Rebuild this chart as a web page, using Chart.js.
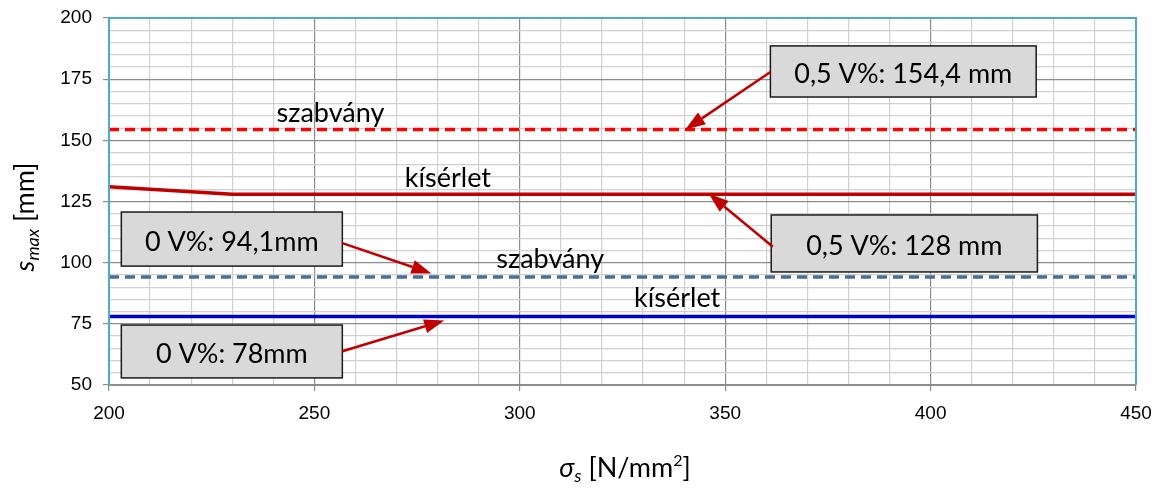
<!DOCTYPE html>
<html>
<head>
<meta charset="utf-8">
<script src="https://cdn.jsdelivr.net/npm/chart.js@4/dist/chart.umd.min.js"></script>
<style>
  html, body { margin: 0; padding: 0; background: #fff; }
  #wrap { width: 1160px; height: 488px; }
</style>
</head>
<body>
<div id="wrap"><canvas id="myChart" width="1160" height="488"></canvas></div>
<script>
// --- data ---
const sigma = [200, 230, 450];              // x values (N/mm2)
const kiserlet05 = [131, 128, 128];         // 0,5 V% test
const szabvany05 = [154.4, 154.4, 154.4];   // 0,5 V% standard
const szabvany0 = [94.1, 94.1, 94.1];       // 0 V% standard
const kiserlet0 = [78, 78, 78];             // 0 V% test

const xTicks = [200, 250, 300, 350, 400, 450];
const yTicks = [50, 75, 100, 125, 150, 175, 200];

const pts = ys => sigma.map((x, i) => ({x: x, y: ys[i]}));

const FONT = "Lato, 'Open Sans', sans-serif";

// callouts, placed in data units
const callouts = [
    {text: "0,5 V%: 154,4 mm", box: [361.0, 188.6, 425.7, 167.7], tail: [361.0, 177.9], tip: [340.3, 154.4]},
    {text: "0,5 V%: 128 mm",   box: [361.2, 119.5, 426.0, 96.2],  tail: [361.6, 106.5], tip: [346.0, 128.2]},
    {text: "0 V%: 94,1mm",     box: [203.0, 120.7, 256.8, 98.6],  tail: [256.8, 108.0], tip: [278.5, 95.6]},
    {text: "0 V%: 78mm",       box: [203.0, 74.5, 256.8, 52.9],   tail: [256.8, 63.8],  tip: [281.6, 76.4]}
];
const lineLabels = [
    {text: "szabvány", at: [253.9, 157.5]},
    {text: "kísérlet", at: [282.5, 131.0]},
    {text: "szabvány", at: [307.4, 97.8]},
    {text: "kísérlet", at: [338.3, 81.9]}
];

function arrow(ctx, x1, y1, x2, y2) {
    const a = Math.atan2(y2 - y1, x2 - x1);
    const L = 20, W = 7;
    const bx = x2 - L * Math.cos(a), by = y2 - L * Math.sin(a);
    ctx.strokeStyle = "#C00000";
    ctx.fillStyle = "#C00000";
    ctx.lineWidth = 2.5;
    ctx.beginPath(); ctx.moveTo(x1, y1); ctx.lineTo(bx, by); ctx.stroke();
    ctx.beginPath();
    ctx.moveTo(x2, y2);
    ctx.lineTo(bx + W * Math.sin(a), by - W * Math.cos(a));
    ctx.lineTo(bx - W * Math.sin(a), by + W * Math.cos(a));
    ctx.closePath(); ctx.fill();
}

const overlay = {
    id: "overlay",
    afterDatasetsDraw(chart) {
        const ctx = chart.ctx, xs = chart.scales.x, ys = chart.scales.y, ca = chart.chartArea;
        ctx.save();
        // plot frame
        ctx.strokeStyle = "#4BACC6";
        ctx.lineWidth = 2;
        ctx.beginPath();
        ctx.moveTo(ca.left, ca.bottom); ctx.lineTo(ca.left, ca.top);
        ctx.lineTo(ca.right, ca.top); ctx.lineTo(ca.right, ca.bottom);
        ctx.stroke();

        // line labels (baseline at the given point)
        ctx.fillStyle = "#000";
        ctx.font = "27px " + FONT;
        ctx.textAlign = "center";
        ctx.textBaseline = "alphabetic";
        lineLabels.forEach(l => ctx.fillText(l.text, xs.getPixelForValue(l.at[0]), ys.getPixelForValue(l.at[1])));

        // callouts
        callouts.forEach(c => {
            const x1 = xs.getPixelForValue(c.box[0]), y1 = ys.getPixelForValue(c.box[1]);
            const x2 = xs.getPixelForValue(c.box[2]), y2 = ys.getPixelForValue(c.box[3]);
            ctx.fillStyle = "#D9D9D9";
            ctx.fillRect(x1, y1, x2 - x1, y2 - y1);
            ctx.strokeStyle = "#1a1a1a";
            ctx.lineWidth = 1.5;
            ctx.strokeRect(x1, y1, x2 - x1, y2 - y1);
            ctx.fillStyle = "#000";
            ctx.font = "27px " + FONT;
            ctx.fillText(c.text, (x1 + x2) / 2, (y1 + y2) / 2 + 12);
            arrow(ctx, xs.getPixelForValue(c.tail[0]), ys.getPixelForValue(c.tail[1]),
                  xs.getPixelForValue(c.tip[0]), ys.getPixelForValue(c.tip[1]));
        });
        ctx.restore();
    },
    afterDraw(chart) {
        const ctx = chart.ctx;
        ctx.save();
        ctx.fillStyle = "#000";
        ctx.textBaseline = "alphabetic";
        ctx.textAlign = "left";
        // x title: sigma_s [N/mm^2]
        const parts = [
            {t: "σ", f: "italic 27px " + FONT, dy: 0},
            {t: "s", f: "italic 18px " + FONT, dy: 5},
            {t: " [N/mm", f: "27px " + FONT, dy: 0},
            {t: "2", f: "16px " + FONT, dy: -11},
            {t: "]", f: "27px " + FONT, dy: 0}
        ];
        let w = 0;
        parts.forEach(p => { ctx.font = p.f; w += ctx.measureText(p.t).width; });
        let x = 625 - w / 2;
        parts.forEach(p => { ctx.font = p.f; ctx.fillText(p.t, x, 477 + p.dy); x += ctx.measureText(p.t).width; });

        // y title: s_max [mm]
        const yparts = [
            {t: "s", f: "italic 27px " + FONT, dy: 0},
            {t: "max", f: "italic 18px " + FONT, dy: 5},
            {t: " [mm]", f: "27px " + FONT, dy: 0}
        ];
        ctx.translate(34, 217);
        ctx.rotate(-Math.PI / 2);
        w = 0;
        yparts.forEach(p => { ctx.font = p.f; w += ctx.measureText(p.t).width; });
        x = -w / 2;
        yparts.forEach(p => { ctx.font = p.f; ctx.fillText(p.t, x, p.dy); x += ctx.measureText(p.t).width; });
        ctx.restore();
    }
};

const isMajor = (v, step) => Math.abs(v % step) < 1e-6;

myChart = new Chart(document.getElementById("myChart").getContext("2d"), {
    type: "line",
    data: {
        datasets: [
            {data: pts(szabvany05), borderColor: "#FF0000", borderWidth: 3.5, borderDash: [10, 6], pointRadius: 0, tension: 0},
            {data: pts(kiserlet05), borderColor: "#C00000", borderWidth: 3.5, pointRadius: 0, tension: 0},
            {data: pts(szabvany0), borderColor: "#4A6DA0", borderWidth: 3.5, borderDash: [10, 6], pointRadius: 0, tension: 0},
            {data: pts(kiserlet0), borderColor: "#0000CC", borderWidth: 3.5, pointRadius: 0, tension: 0}
        ]
    },
    options: {
        responsive: false,
        animation: false,
        devicePixelRatio: 1,
        layout: {padding: {top: 18, right: 24, left: 0, bottom: 0}},
        plugins: {legend: {display: false}, tooltip: {enabled: false}},
        scales: {
            x: {
                type: "linear", min: xTicks[0], max: xTicks[xTicks.length - 1],
                // fixed axis band, no label overhang padding
                afterFit: s => { s.height = 103; s.paddingLeft = 0; s.paddingRight = 0; },
                ticks: {
                    stepSize: 10, autoSkip: false, maxRotation: 0, padding: 11,
                    color: "#000", font: {family: "'Liberation Sans', Arial", size: 19},
                    callback: v => xTicks.includes(v) ? String(v) : ""
                },
                grid: {
                    tickLength: 6,
                    color: c => isMajor(c.tick.value, 50) ? "#8C8C8C" : "#D0D0D0",
                    tickColor: c => isMajor(c.tick.value, 50) ? "#8C8C8C" : "rgba(0,0,0,0)",
                    lineWidth: 1.2
                },
                border: {color: "#8C8C8C", width: 2}
            },
            y: {
                min: yTicks[0], max: yTicks[yTicks.length - 1],
                afterFit: s => { s.width = 109; s.paddingTop = 0; s.paddingBottom = 0; },
                ticks: {
                    stepSize: 5, autoSkip: false, padding: 11,
                    color: "#000", font: {family: "'Liberation Sans', Arial", size: 19},
                    callback: v => yTicks.includes(v) ? String(v) : ""
                },
                grid: {
                    tickLength: 6,
                    color: c => isMajor(c.tick.value, 25) ? "#8C8C8C" : "#D0D0D0",
                    tickColor: c => isMajor(c.tick.value, 25) ? "#8C8C8C" : "rgba(0,0,0,0)",
                    lineWidth: 1.2
                },
                border: {color: "#4BACC6", width: 2}
            }
        }
    },
    plugins: [overlay]
});
</script>
</body>
</html>
